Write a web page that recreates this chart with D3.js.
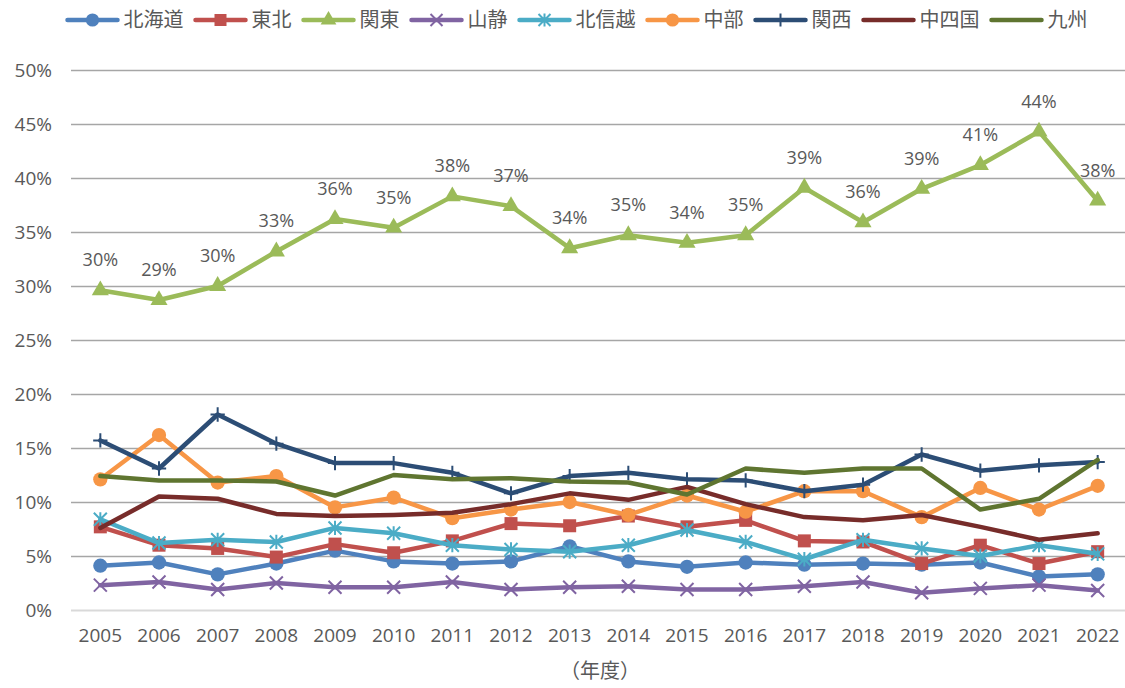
<!DOCTYPE html>
<html>
<head>
<meta charset="utf-8">
<script src="https://cdn.jsdelivr.net/npm/d3@7"></script>
<style>
    body { margin: 0; background: #fff; }
    #chart { width: 1125px; height: 688px; }
    text { font-family: "Open Sans", "Noto Sans CJK JP", sans-serif; fill: #595959; }
</style>
</head>
<body>
<div id="chart"></div>
<script>

// data (share, %)
let years = ["2005","2006","2007","2008","2009","2010","2011","2012","2013",
    "2014","2015","2016","2017","2018","2019","2020","2021","2022"];

let regions = ["北海道","東北","関東","山静","北信越","中部","関西","中四国","九州"];

let hokkaido = [4.1,4.4,3.3,4.3,5.5,4.5,4.3,4.5,5.9,4.5,4.0,4.4,4.2,4.3,4.2,4.4,3.1,3.3];
let tohoku   = [7.7,6.0,5.7,4.9,6.1,5.3,6.4,8.0,7.8,8.7,7.7,8.3,6.4,6.3,4.3,6.0,4.3,5.4];
let kanto    = [29.6,28.7,30.0,33.2,36.2,35.4,38.3,37.4,33.5,34.7,34.0,34.7,39.1,35.9,39.0,41.2,44.3,37.9];
let sanshizu = [2.3,2.6,1.9,2.5,2.1,2.1,2.6,1.9,2.1,2.2,1.9,1.9,2.2,2.6,1.6,2.0,2.3,1.8];
let hokushin = [8.4,6.2,6.5,6.3,7.6,7.1,6.0,5.6,5.4,6.0,7.4,6.3,4.7,6.5,5.7,5.0,6.0,5.2];
let chubu    = [12.1,16.2,11.8,12.4,9.5,10.4,8.5,9.3,10.0,8.8,10.6,9.1,11.0,11.0,8.6,11.3,9.3,11.5];
let kansai   = [15.7,13.1,18.1,15.4,13.6,13.6,12.7,10.8,12.4,12.7,12.1,12.0,11.0,11.6,14.4,12.9,13.4,13.7];
let chushi   = [7.6,10.5,10.3,8.9,8.7,8.8,9.0,9.8,10.8,10.2,11.4,9.8,8.6,8.3,8.8,7.7,6.5,7.1];
let kyushu   = [12.4,12.0,12.0,11.9,10.6,12.5,12.1,12.2,11.9,11.8,10.7,13.1,12.7,13.1,13.1,9.3,10.3,13.9];

let yTicks = [0,0.05,0.10,0.15,0.20,0.25,0.30,0.35,0.40,0.45,0.50];

let colors = ["#4f81bd","#c0504d","#9bbb59","#8064a2","#4bacc6","#f79646","#2c4d75","#772c2a","#5f7530"];
let markers = ["circle","square","triangle","x","asterisk","circle","plus","none","none"];

let seriesValues = [hokkaido, tohoku, kanto, sanshizu, hokushin, chubu, kansai, chushi, kyushu];

let series = regions.map((name, i) => ({
    name: name,
    color: colors[i],
    marker: markers[i],
    values: seriesValues[i].map((v, j) => ({year: years[j], value: v / 100}))
}));

let margin = {top: 70, left: 71, right: 1127, bottom: 610};

let svg = d3.select("#chart").append("svg")
    .attr("width", 1125)
    .attr("height", 688);

let x = d3.scaleBand()
    .domain(years)
    .range([margin.left, margin.right]);

let y = d3.scaleLinear()
    .domain([0, 0.5])
    .range([margin.bottom, margin.top]);

// gridlines + y labels
let yAxis = svg.append("g")
    .attr("transform", `translate(${margin.left},0)`)
    .call(d3.axisLeft(y)
        .tickValues(yTicks)
        .tickSize(-(margin.right - margin.left))
        .tickPadding(19)
        .tickFormat(d3.format(".0%")));

yAxis.select(".domain").remove();
yAxis.selectAll(".tick line")
    .attr("stroke", d => d === 0 ? "#d9d9d9" : "#a6a6a6")
    .attr("stroke-width", d => d === 0 ? 2 : 1.5);
yAxis.selectAll(".tick text")
    .style("font-size", "19px")
    .attr("fill", "#595959");

// x labels
let xAxis = svg.append("g")
    .attr("transform", `translate(0,${margin.bottom})`)
    .call(d3.axisBottom(x).tickSize(0).tickPadding(19));

xAxis.select(".domain").remove();
xAxis.selectAll(".tick text")
    .style("font-size", "19px")
    .attr("fill", "#595959");

svg.append("text")
    .attr("x", 600)
    .attr("y", 671)
    .attr("dy", "0.35em")
    .attr("text-anchor", "middle")
    .style("font-size", "20px")
    .text("（年度）");

let line = d3.line()
    .x(d => x(d.year) + x.bandwidth() / 2)
    .y(d => y(d.value));

function drawMarker(g, type, color, size) {
    let s = size;
    if (type === "circle") {
        g.append("circle").attr("r", s * 0.55).attr("fill", color);
    } else if (type === "square") {
        g.append("rect").attr("x", -s / 2).attr("y", -s / 2)
            .attr("width", s).attr("height", s).attr("fill", color);
    } else if (type === "triangle") {
        g.append("path").attr("d", d3.symbol(d3.symbolTriangle, s * s * 0.75)).attr("fill", color);
    } else if (type === "x") {
        let h = s * 0.5;
        g.append("path").attr("d", `M${-h},${-h}L${h},${h}M${-h},${h}L${h},${-h}`)
            .attr("stroke", color).attr("stroke-width", 2);
    } else if (type === "asterisk") {
        let h = s * 0.5;
        g.append("path").attr("d", `M${-h},${-h}L${h},${h}M${-h},${h}L${h},${-h}M0,${-h * 1.1}L0,${h * 1.1}`)
            .attr("stroke", color).attr("stroke-width", 2);
    } else if (type === "plus") {
        let h = s * 0.55;
        g.append("path").attr("d", `M0,${-h}L0,${h}M${-h},0L${h},0`)
            .attr("stroke", color).attr("stroke-width", 2);
    }
}

// series
series.forEach(s => {
    let g = svg.append("g").attr("class", "series");

    g.append("path")
        .datum(s.values)
        .attr("fill", "none")
        .attr("stroke", s.color)
        .attr("stroke-width", 4.5)
        .attr("stroke-linejoin", "round")
        .attr("stroke-linecap", "round")
        .attr("d", line);

    if (s.marker !== "none") {
        g.selectAll(".mk")
            .data(s.values)
            .enter().append("g")
            .attr("class", "mk")
            .attr("transform", d => `translate(${x(d.year) + x.bandwidth() / 2},${y(d.value)})`)
            .each(function () { drawMarker(d3.select(this), s.marker, s.color, 13); });
    }
});

// data labels for 関東
let kantoSeries = series[2];
svg.append("g")
    .selectAll("text")
    .data(kantoSeries.values)
    .enter().append("text")
    .attr("x", d => x(d.year) + x.bandwidth() / 2)
    .attr("y", d => y(d.value) - 24)
    .attr("text-anchor", "middle")
    .style("font-size", "18px")
    .attr("fill", "#404040")
    .text(d => Math.round(d.value * 100) + "%");

// legend
let legend = svg.append("g").attr("class", "legend");
let lx = 0;
series.forEach(s => {
    let item = legend.append("g").attr("transform", `translate(${lx},0)`);
    item.append("line")
        .attr("x1", 0).attr("x2", 50)
        .attr("y1", 0).attr("y2", 0)
        .attr("stroke", s.color)
        .attr("stroke-width", 4.5)
        .attr("stroke-linecap", "round");
    let mk = item.append("g").attr("transform", "translate(25,0)");
    drawMarker(mk, s.marker, s.color, 12);
    let t = item.append("text")
        .attr("x", 56)
        .attr("y", 7)
        .style("font-size", "20px")
        .text(s.name);
    lx += 56 + t.node().getComputedTextLength() + 12;
});
let legendWidth = lx - 12;
legend.attr("transform", `translate(${(62 + 1093) / 2 - legendWidth / 2},20)`);

</script>
</body>
</html>
